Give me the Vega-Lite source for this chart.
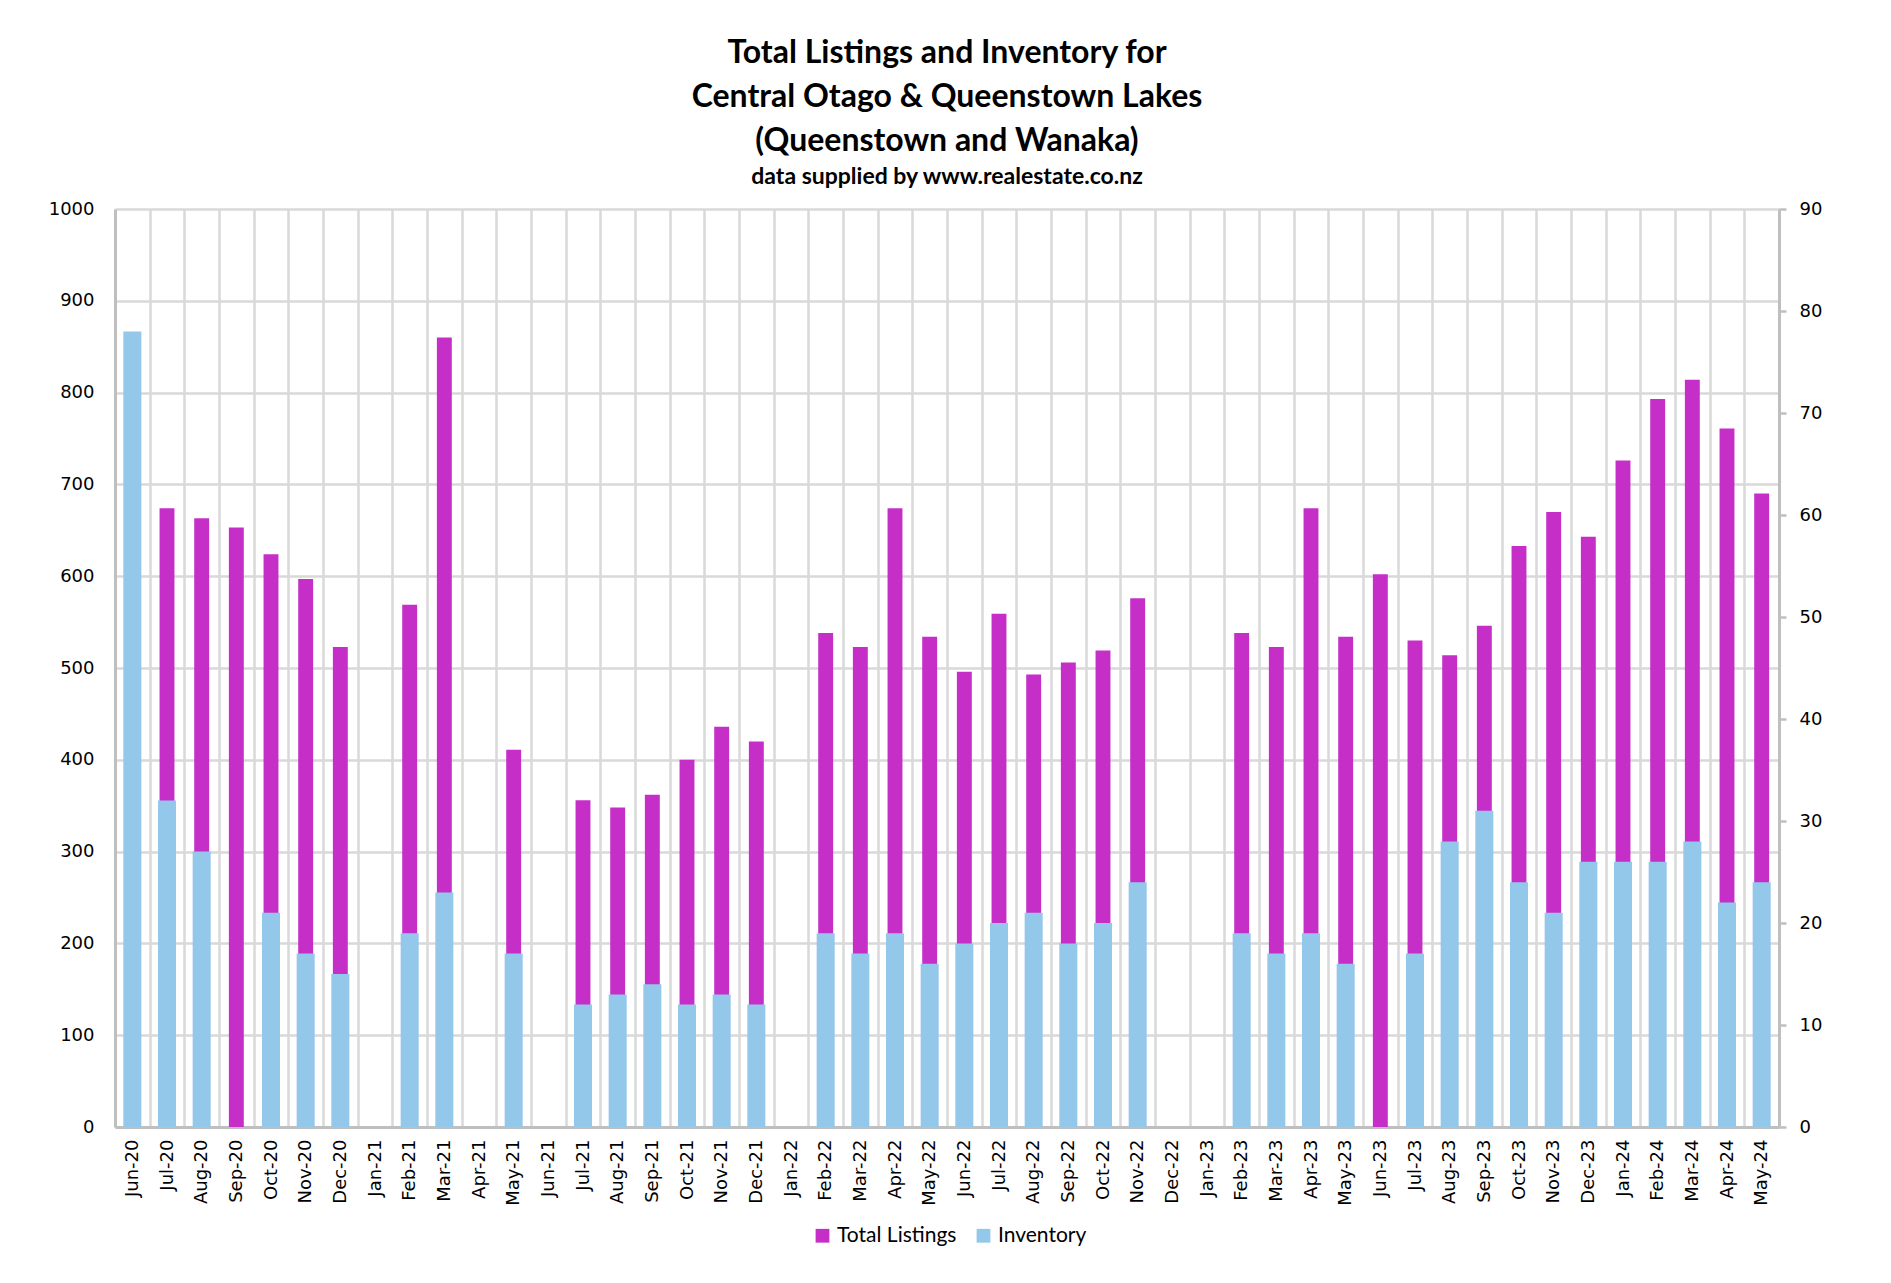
{
  "$schema": "https://vega.github.io/schema/vega-lite/v6.json",
  "width": 1664,
  "height": 918,
  "autosize": {"type": "none"},
  "padding": {"left": 115, "top": 209, "right": 112, "bottom": 156},
  "background": "white",
  "title": {
    "text": ["Total Listings and Inventory for", "Central Otago & Queenstown Lakes", "(Queenstown and Wanaka)"],
    "subtitle": "data supplied by www.realestate.co.nz",
    "anchor": "middle",
    "frame": "group",
    "font": "Lato",
    "fontSize": 32,
    "fontWeight": "bold",
    "lineHeight": 44,
    "color": "#000000",
    "subtitleFont": "Lato",
    "subtitleFontSize": 23,
    "subtitleFontWeight": "bold",
    "subtitleColor": "#000000",
    "subtitlePadding": 8,
    "offset": 10
  },
  "data": {
    "values": [
      {"month": "Jun-20", "listings": null, "inventory": 78},
      {"month": "Jul-20", "listings": 674, "inventory": 32},
      {"month": "Aug-20", "listings": 663, "inventory": 27},
      {"month": "Sep-20", "listings": 653, "inventory": 0},
      {"month": "Oct-20", "listings": 624, "inventory": 21},
      {"month": "Nov-20", "listings": 597, "inventory": 17},
      {"month": "Dec-20", "listings": 523, "inventory": 15},
      {"month": "Jan-21", "listings": null, "inventory": null},
      {"month": "Feb-21", "listings": 569, "inventory": 19},
      {"month": "Mar-21", "listings": 860, "inventory": 23},
      {"month": "Apr-21", "listings": null, "inventory": null},
      {"month": "May-21", "listings": 411, "inventory": 17},
      {"month": "Jun-21", "listings": null, "inventory": null},
      {"month": "Jul-21", "listings": 356, "inventory": 12},
      {"month": "Aug-21", "listings": 348, "inventory": 13},
      {"month": "Sep-21", "listings": 362, "inventory": 14},
      {"month": "Oct-21", "listings": 400, "inventory": 12},
      {"month": "Nov-21", "listings": 436, "inventory": 13},
      {"month": "Dec-21", "listings": 420, "inventory": 12},
      {"month": "Jan-22", "listings": null, "inventory": null},
      {"month": "Feb-22", "listings": 538, "inventory": 19},
      {"month": "Mar-22", "listings": 523, "inventory": 17},
      {"month": "Apr-22", "listings": 674, "inventory": 19},
      {"month": "May-22", "listings": 534, "inventory": 16},
      {"month": "Jun-22", "listings": 496, "inventory": 18},
      {"month": "Jul-22", "listings": 559, "inventory": 20},
      {"month": "Aug-22", "listings": 493, "inventory": 21},
      {"month": "Sep-22", "listings": 506, "inventory": 18},
      {"month": "Oct-22", "listings": 519, "inventory": 20},
      {"month": "Nov-22", "listings": 576, "inventory": 24},
      {"month": "Dec-22", "listings": null, "inventory": null},
      {"month": "Jan-23", "listings": null, "inventory": null},
      {"month": "Feb-23", "listings": 538, "inventory": 19},
      {"month": "Mar-23", "listings": 523, "inventory": 17},
      {"month": "Apr-23", "listings": 674, "inventory": 19},
      {"month": "May-23", "listings": 534, "inventory": 16},
      {"month": "Jun-23", "listings": 602, "inventory": 0},
      {"month": "Jul-23", "listings": 530, "inventory": 17},
      {"month": "Aug-23", "listings": 514, "inventory": 28},
      {"month": "Sep-23", "listings": 546, "inventory": 31},
      {"month": "Oct-23", "listings": 633, "inventory": 24},
      {"month": "Nov-23", "listings": 670, "inventory": 21},
      {"month": "Dec-23", "listings": 643, "inventory": 26},
      {"month": "Jan-24", "listings": 726, "inventory": 26},
      {"month": "Feb-24", "listings": 793, "inventory": 26},
      {"month": "Mar-24", "listings": 814, "inventory": 28},
      {"month": "Apr-24", "listings": 761, "inventory": 22},
      {"month": "May-24", "listings": 690, "inventory": 24}
    ]
  },
  "encoding": {
    "x": {
      "field": "month",
      "type": "ordinal",
      "sort": null,
      "scale": {
        "domain": ["Jun-20", "Jul-20", "Aug-20", "Sep-20", "Oct-20", "Nov-20", "Dec-20", "Jan-21", "Feb-21", "Mar-21", "Apr-21", "May-21", "Jun-21", "Jul-21", "Aug-21", "Sep-21", "Oct-21", "Nov-21", "Dec-21", "Jan-22", "Feb-22", "Mar-22", "Apr-22", "May-22", "Jun-22", "Jul-22", "Aug-22", "Sep-22", "Oct-22", "Nov-22", "Dec-22", "Jan-23", "Feb-23", "Mar-23", "Apr-23", "May-23", "Jun-23", "Jul-23", "Aug-23", "Sep-23", "Oct-23", "Nov-23", "Dec-23", "Jan-24", "Feb-24", "Mar-24", "Apr-24", "May-24"],
        "paddingInner": 0,
        "paddingOuter": 0
      },
      "axis": {
        "title": null,
        "labelAngle": -90,
        "labelFont": "DejaVu Sans",
        "labelFontSize": 18,
        "labelColor": "#000000",
        "labelPadding": 12,
        "ticks": false,
        "tickBand": "extent",
        "grid": true,
        "gridColor": "#d9d9d9",
        "gridWidth": 2.5,
        "domainColor": "#bfbfbf",
        "domainWidth": 3
      }
    }
  },
  "layer": [
    {
      "mark": {"type": "bar", "width": {"band": 0.43}},
      "encoding": {
        "y": {
          "field": "listings",
          "type": "quantitative",
          "scale": {"domain": [0, 1000], "nice": false},
          "axis": {
            "orient": "left",
            "title": null,
            "format": "d",
            "values": [0, 100, 200, 300, 400, 500, 600, 700, 800, 900, 1000],
            "labelFont": "DejaVu Sans",
            "labelFontSize": 18,
            "labelColor": "#000000",
            "labelPadding": 21,
            "ticks": false,
            "grid": true,
            "gridColor": "#d9d9d9",
            "gridWidth": 2.5,
            "domainColor": "#bfbfbf",
            "domainWidth": 3
          }
        },
        "color": {
          "datum": "Total Listings",
          "type": "nominal",
          "scale": {"domain": ["Total Listings", "Inventory"], "range": ["#c52fc8", "#94c8ea"]},
          "legend": {
            "orient": "none",
            "legendX": 697,
            "legendY": 1016,
            "direction": "horizontal",
            "title": null,
            "symbolType": "square",
            "symbolSize": 190,
            "symbolStrokeWidth": 0,
            "labelFont": "Lato",
            "labelFontSize": 21,
            "labelColor": "#000000",
            "labelOffset": 4,
            "columnPadding": 16
          }
        }
      }
    },
    {
      "mark": {"type": "bar", "width": {"band": 0.52}},
      "encoding": {
        "y": {
          "field": "inventory",
          "type": "quantitative",
          "scale": {"domain": [0, 90], "nice": false},
          "axis": {
            "orient": "right",
            "title": null,
            "values": [0, 10, 20, 30, 40, 50, 60, 70, 80, 90],
            "labelFont": "DejaVu Sans",
            "labelFontSize": 18,
            "labelColor": "#000000",
            "labelPadding": 13,
            "ticks": true,
            "tickColor": "#bfbfbf",
            "tickSize": 7,
            "tickWidth": 2.5,
            "grid": false,
            "domainColor": "#bfbfbf",
            "domainWidth": 3
          }
        },
        "color": {"datum": "Inventory", "type": "nominal"}
      }
    }
  ],
  "resolve": {"scale": {"y": "independent"}},
  "config": {"view": {"stroke": null}}
}
